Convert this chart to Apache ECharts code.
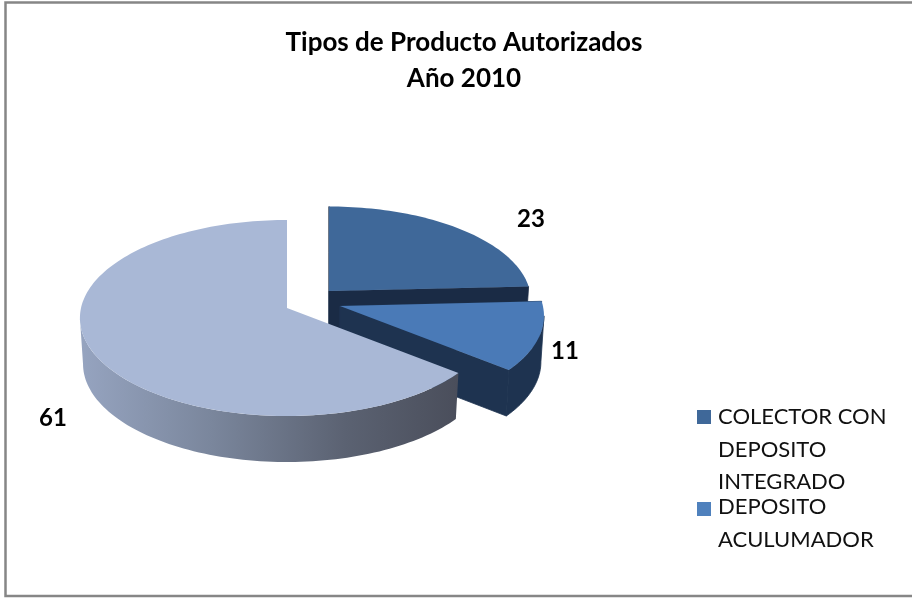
<!DOCTYPE html>
<html><head><meta charset="utf-8">
<style>html,body{margin:0;padding:0;background:#fff}#c{width:912px;height:599px}</style>
<script src="https://cdn.jsdelivr.net/npm/echarts@6/dist/echarts.min.js"></script>
</head><body><div id="c"></div>
<script>
const categories = ['COLECTOR CON\nDEPOSITO\nINTEGRADO', 'DEPOSITO\nACULUMADOR', 'OTROS'];
const values = [23, 11, 61];
const titleLines = ['Tipos de Producto Autorizados', 'Año 2010'];

const topColors = ['#3f6899', '#4a7ab7', '#a9b8d6'];
const legendColors = ['#3f6899', '#4f81bd', '#a9b8d6'];
const sideColors = ['#1a2b45', '#1e3350', '#4a4e5b'];
// per-slice placement of the exploded pieces
const pieces = [
  {cx: 329, cy: 291, sx: 0.975, sy: 0.96, label: [531, 219]},
  {cx: 340, cy: 306, sx: 0.985, sy: 0.985, label: [565, 351]},
  {cx: 287, cy: 308, sx: 1, sy: 1, label: [53, 418]}
];
const R = 206, A = 97, P = 0.102, DEPTH = 46, BOTTOM_SCALE = 0.985;
const total = values.reduce((a, b) => a + b, 0);
const SILHOUETTE = Math.asin(P) * 180 / Math.PI;

function project(p, deg) {
  const t = deg * Math.PI / 180, u = Math.sin(t), v = -Math.cos(t);
  const d = 1 - P * v;
  return [p.cx + p.sx * R * u / d, p.cy + p.sy * A * v / d];
}
function lower(p, pt) {
  return [p.cx + (pt[0] - p.cx) * BOTTOM_SCALE, pt[1] + DEPTH];
}
function arc(p, a0, a1) {
  const out = [], n = Math.max(2, Math.ceil((a1 - a0) / 1.5));
  for (let i = 0; i <= n; i++) out.push(project(p, a0 + (a1 - a0) * i / n));
  return out;
}
function renderSlice(idx) {
  return function (params, api) {
    const val = api.value(0);
    const before = values.slice(0, idx).reduce((a, b) => a + b, 0);
    const a0 = before / total * 360, a1 = (before + val) / total * 360;
    const p = pieces[idx], rim = arc(p, a0, a1), apex = [p.cx, p.cy];
    const lowApex = lower(p, apex);
    const side = sideColors[idx];
    const poly = (points, fill, stroke) => ({type: 'polygon', shape: {points},
      style: {fill, stroke: stroke || null, lineWidth: stroke ? 0.8 : 0}});
    const children = [];
    const first = rim[0], last = rim[rim.length - 1];
    if (idx !== 2) {
      children.push(poly([apex, first, lower(p, first), lowApex], side, side));
      children.push(poly([apex, last, lower(p, last), lowApex], side, side));
    }
    // outer wall: only the front-facing part of the rim, closed by vertical silhouette edges
    const w0 = Math.max(a0, 90 + SILHOUETTE), w1 = Math.min(a1, 270 - SILHOUETTE);
    if (w1 > w0) {
      const front = arc(p, w0, w1);
      const band = front.concat(front.map(q => lower(p, q)).reverse());
      children.push(idx === 2
        ? poly(band, new echarts.graphic.LinearGradient(0, 0, 1, 0, [
            {offset: 0, color: '#96a4c0'}, {offset: 0.35, color: '#7a869c'},
            {offset: 0.7, color: '#5b6272'}, {offset: 1, color: side}]))
        : poly(band, side, side));
    }
    children.push(poly([apex].concat(rim), topColors[idx]));
    children.push({type: 'text', z2: 10, x: p.label[0], y: p.label[1], style: {
      text: String(val), fill: '#000', align: 'center', verticalAlign: 'middle',
      font: 'bold 24px Lato'}});
    return {type: 'group', children};
  };
}
const chart = echarts.init(document.getElementById('c'), null, {renderer: 'canvas'});
const legendIcon = (h, off) => `path://M0 0H0 M0 ${off}H14V${off + 14}H0Z M16 ${h}H16`;
const legendText = {fontFamily: 'Lato', fontSize: 22, lineHeight: 32.5, color: '#111'};
chart.setOption({
  animation: false,
  backgroundColor: '#fff',
  title: {text: titleLines.join('\n'), left: 464, top: 25, padding: 0, textAlign: 'center',
    textStyle: {fontFamily: 'Lato', fontWeight: 'bold', fontSize: 26, lineHeight: 36, color: '#000'}},
  legend: [
    {data: [categories[0]], left: 697, top: 401, padding: 0, orient: 'vertical', icon: legendIcon(97.5, 9), itemWidth: 16, itemHeight: 97.5, itemGap: 0,
      selectedMode: false, textStyle: legendText},
    {data: [categories[1]], left: 697, top: 491, padding: 0, orient: 'vertical', icon: legendIcon(65, 11), itemWidth: 16, itemHeight: 65, itemGap: 0,
      selectedMode: false, textStyle: legendText}
  ],
  graphic: [{type: 'rect', silent: true, z: -1, shape: {x: 5.5, y: 2.5, width: 920, height: 593.5},
    style: {fill: '#fff', stroke: '#868686', lineWidth: 2.5}}],
  series: categories.map((name, i) => ({
    type: 'custom', name, coordinateSystem: 'none', z: i + 1,
    itemStyle: {color: legendColors[i]},
    data: [[values[i]]],
    renderItem: renderSlice(i),
    silent: true
  }))
});
</script></body></html>
